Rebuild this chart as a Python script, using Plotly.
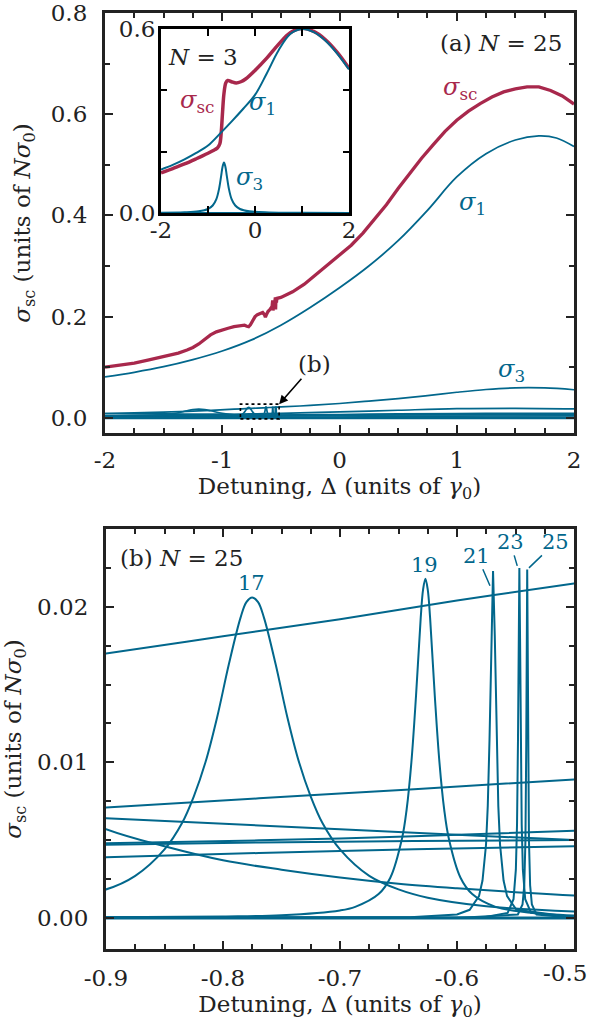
import plotly.graph_objects as go

W, H = 590, 1023
FONT = "DejaVu Serif"
INK = "#222222"
TEAL = "#02678C"
CRIMSON = "#A8284C"

# ---------------- N = 25 chain: cross sections vs detuning ----------------
# total scattering cross section
sig_sc_x = [-2.0, -1.875, -1.75, -1.625, -1.5, -1.375, -1.3, -1.25, -1.2, -1.15,
            -1.1, -1.05, -1.0, -0.95, -0.9, -0.85, -0.81, -0.79, -0.775, -0.76,
            -0.74, -0.72, -0.70, -0.675, -0.655, -0.64, -0.632, -0.625, -0.61, -0.59,
            -0.575, -0.570, -0.567, -0.562, -0.55, -0.547, -0.545, -0.542, -0.538, -0.534,
            -0.5, -0.4, -0.3, -0.2, -0.1, 0.0, 0.1, 0.2, 0.3, 0.4,
            0.5, 0.6, 0.7, 0.8, 0.9, 1.0, 1.1, 1.2, 1.3, 1.4,
            1.5, 1.6, 1.7, 1.8, 1.9, 2.0]
sig_sc = [0.100, 0.104, 0.108, 0.1145, 0.121, 0.128, 0.134, 0.139, 0.146, 0.156,
          0.164, 0.170, 0.174, 0.177, 0.180, 0.182, 0.183, 0.181, 0.180, 0.184,
          0.193, 0.200, 0.204, 0.207, 0.208, 0.204, 0.199, 0.203, 0.210, 0.215,
          0.220, 0.232, 0.212, 0.226, 0.232, 0.238, 0.214, 0.236, 0.228, 0.236,
          0.238, 0.249, 0.264, 0.283, 0.302, 0.320, 0.341, 0.365, 0.392, 0.421,
          0.453, 0.484, 0.513, 0.540, 0.566, 0.588, 0.606, 0.621, 0.634, 0.644,
          0.650, 0.654, 0.654, 0.647, 0.636, 0.620]

# sigma_1
sig1_x = [-2.0, -1.75, -1.5, -1.25, -1.0, -0.75, -0.5, -0.25, 0.0, 0.25,
          0.5, 0.75, 1.0, 1.25, 1.5, 1.7, 1.85, 2.0]
sig1 = [0.081, 0.090, 0.101, 0.115, 0.132, 0.154, 0.183, 0.218, 0.257, 0.300,
        0.350, 0.410, 0.476, 0.522, 0.549, 0.557, 0.553, 0.536]

# sigma_3
sig3_x = [-2.0, -1.5, -1.2, -0.9, -0.8, -0.7, -0.6, -0.5, -0.25, 0.0,
          0.25, 0.5, 0.75, 1.0, 1.25, 1.5, 1.75, 2.0]
sig3 = [0.0085, 0.0112, 0.0138, 0.0170, 0.0181, 0.0192, 0.0204, 0.0215, 0.0245, 0.0283,
        0.0330, 0.0380, 0.0440, 0.0505, 0.0560, 0.0592, 0.0590, 0.0555]

# slowly varying higher-order cross sections
low_x = [-2.0, -1.5, -1.0, -0.9, -0.7, -0.5, 0.0, 0.5, 1.0, 1.5, 2.0]
sig_a = [0.0045, 0.0057, 0.0067, 0.0071, 0.0080, 0.0089, 0.0117, 0.0150, 0.0180, 0.0188, 0.0178]
sig_b = [0.0085, 0.0077, 0.0067, 0.0064, 0.0057, 0.0050, 0.0036, 0.0026, 0.0019, 0.0014, 0.0011]
sig_c = [0.0028, 0.0038, 0.0046, 0.0048, 0.0051, 0.0056, 0.0066, 0.0076, 0.0084, 0.0088, 0.0086]
sig_d = [0.0034, 0.0040, 0.0045, 0.0047, 0.0049, 0.0050, 0.0054, 0.0057, 0.0059, 0.0059, 0.0057]
sig_e = [0.0022, 0.0030, 0.0037, 0.0039, 0.0043, 0.0046, 0.0052, 0.0056, 0.0058, 0.0058, 0.0055]

# resonance near -1.2
p15_x = [-2.0, -1.8, -1.6, -1.5, -1.4, -1.3, -1.25, -1.2, -1.15, -1.1,
         -1.0, -0.9, -0.85, -0.8, -0.75, -0.7, -0.65, -0.6, -0.55, -0.5,
         -0.3, 0.0, 0.5, 1.0, 2.0]
p15 = [0.0011, 0.0019, 0.0037, 0.0057, 0.0090, 0.0139, 0.0161, 0.0170, 0.0161, 0.0139,
       0.0090, 0.0057, 0.0046, 0.0037, 0.0031, 0.0026, 0.0022, 0.0019, 0.00165, 0.00144,
       0.0009, 0.00052, 0.00026, 0.00016, 0.00007]

# resonance 17
p17_x = [-2.0, -1.2, -1.0, -0.9, -0.875, -0.85, -0.835, -0.825, -0.815, -0.805,
         -0.795, -0.785, -0.78, -0.775, -0.77, -0.765, -0.755, -0.745, -0.735, -0.725,
         -0.715, -0.70, -0.675, -0.65, -0.625, -0.575, -0.5, -0.25, 0.5, 2.0]
p17 = [0.00002, 0.00017, 0.0006, 0.00183, 0.0027, 0.0044, 0.0061, 0.0078, 0.0100, 0.0129,
       0.0163, 0.0193, 0.0203, 0.0206, 0.0203, 0.0193, 0.0163, 0.0129, 0.0100, 0.0078,
       0.0061, 0.0044, 0.0027, 0.00183, 0.0013, 0.00075, 0.00041, 0.00011, 0.00002, 0.0]

# resonance 19
p19_x = [-2.0, -1.2, -0.9, -0.8, -0.75, -0.7, -0.687, -0.667, -0.657, -0.647,
         -0.643, -0.639, -0.635, -0.631, -0.629, -0.627, -0.625, -0.623, -0.619, -0.615,
         -0.611, -0.607, -0.597, -0.587, -0.567, -0.527, -0.5, -0.4, 0.0, 2.0]
p19 = [0.0, 0.000008, 0.000035, 0.000088, 0.00017, 0.00048, 0.00071, 0.00153, 0.00258, 0.0051,
       0.0070, 0.0100, 0.0143, 0.0193, 0.0211, 0.0218, 0.0211, 0.0193, 0.0143, 0.0100,
       0.0070, 0.0051, 0.00258, 0.00153, 0.00071, 0.00026, 0.00016, 0.00005, 0.00001, 0.0]

# resonance 21
p21_x = [-2.0, -0.9, -0.7, -0.64, -0.6, -0.5892, -0.5812, -0.5782, -0.5752, -0.5737,
         -0.5722, -0.5707, -0.5692, -0.5677, -0.5662, -0.5647, -0.5632, -0.5602, -0.5572, -0.5492,
         -0.5, 0.0, 2.0]
p21 = [0.0, 0.000002, 0.0000125, 0.000043, 0.00022, 0.00052, 0.0014, 0.0024, 0.0047, 0.0072,
       0.0115, 0.0181, 0.0223, 0.0181, 0.0115, 0.0072, 0.0047, 0.0024, 0.0014, 0.00052,
       0.000045, 0.0, 0.0]

# resonance 23
p23_x = [-2.0, -0.9, -0.6, -0.5767, -0.5567, -0.5517, -0.5497, -0.5487, -0.5479, -0.5473,
         -0.5467, -0.5461, -0.5455, -0.5447, -0.5437, -0.5417, -0.5367, -0.5, 2.0]
p23 = [0.0, 0.0, 0.00001, 0.000036, 0.00032, 0.0012, 0.0031, 0.0060, 0.01125, 0.018,
       0.0225, 0.018, 0.01125, 0.0060, 0.0031, 0.0012, 0.00032, 0.00001, 0.0]

# resonance 25
p25_x = [-2.0, -0.6, -0.548, -0.544, -0.5425, -0.5415, -0.5408, -0.5404, -0.54, -0.5396,
         -0.5392, -0.5385, -0.5375, -0.536, -0.532, -0.5, 2.0]
p25 = [0.0, 0.0, 0.00022, 0.00086, 0.0021, 0.0050, 0.0112, 0.0179, 0.0224, 0.0179,
       0.0112, 0.0050, 0.0021, 0.00086, 0.00022, 0.00001, 0.0]

# vanishing (even-order) cross sections
zero_x = [-2.0, 2.0]
zero_y = [0.0, 0.0]

# ---------------- N = 3 chain (inset) ----------------
in1_x = [-2.0, -1.75, -1.5, -1.25, -1.0, -0.75, -0.5, -0.25, 0.0, 0.25,
         0.5, 0.75, 1.0, 1.25, 1.5, 1.75, 2.0]
in1 = [0.142, 0.157, 0.175, 0.196, 0.220, 0.258, 0.298, 0.340, 0.385, 0.455,
       0.530, 0.584, 0.600, 0.590, 0.562, 0.520, 0.468]
insc_x = [-2.0, -1.75, -1.5, -1.25, -1.0, -0.85, -0.8, -0.75, -0.72, -0.69,
          -0.66, -0.62, -0.58, -0.5, -0.4, -0.3, -0.2, 0.0, 0.25, 0.5,
          0.75, 1.0, 1.25, 1.5, 1.75, 2.0]
insc = [0.131, 0.145, 0.160, 0.177, 0.195, 0.207, 0.212, 0.225, 0.260, 0.330,
        0.390, 0.425, 0.432, 0.428, 0.424, 0.428, 0.437, 0.465, 0.505, 0.550,
        0.588, 0.602, 0.592, 0.565, 0.524, 0.472]
in3_x = [-2.0, -1.5, -1.2, -1.0, -0.9, -0.82, -0.76, -0.72, -0.69, -0.66,
         -0.63, -0.6, -0.56, -0.5, -0.42, -0.32, -0.12, 0.3, 1.0, 2.0]
in3 = [0.0009, 0.0022, 0.0055, 0.0131, 0.0244, 0.0463, 0.0825, 0.121, 0.151, 0.165,
       0.151, 0.121, 0.0825, 0.0463, 0.0244, 0.0131, 0.0055, 0.0018, 0.0006, 0.00023]

# ---------------- tick labels ----------------
xa_vals = [-2, -1, 0, 1, 2]
xa_text = ["-2", "-1", "0", "1", "2"]
ya_vals = [0.0, 0.2, 0.4, 0.6, 0.8]
ya_text = ["0.0", "0.2", "0.4", "0.6", "0.8"]
xi_vals = [-2, -1, 0, 1, 2]
xi_text = ["-2", "", "0", "", "2"]
yi_vals = [0.0, 0.2, 0.4, 0.6]
yi_text = ["0.0", "", "", "0.6"]
xb_vals = [-0.9, -0.8, -0.7, -0.6, -0.5]
xb_text = ["-0.9", "-0.8", "-0.7", "-0.6", ""]
xb_last = "-0.5"   # right-most label, kept inside the page edge
yb_vals = [0.0, 0.01, 0.02]
yb_text = ["0.00", "0.01", "0.02"]


def px(x):
    return x / W


def py(y):
    return 1 - y / H


fig = go.Figure()


def line(x, y, xa, ya, color, width, shape="linear"):
    fig.add_trace(go.Scatter(x=x, y=y, xaxis=xa, yaxis=ya, mode="lines",
                             line=dict(color=color, width=width, shape=shape),
                             hoverinfo="skip", showlegend=False))


# teal family, shared by panels (a) and (b)
smooth = [(low_x, sig_a), (low_x, sig_b), (low_x, sig_c), (low_x, sig_d), (low_x, sig_e),
          (sig3_x, sig3), (p15_x, p15), (p17_x, p17), (p19_x, p19)]
sharp = [(p21_x, p21), (p23_x, p23), (p25_x, p25)]

for xa, ya, w in (("x", "y", 1.7), ("x3", "y3", 2.0)):
    line(zero_x, zero_y, xa, ya, TEAL, 3.0)
    for xs, ys in smooth:
        line(xs, ys, xa, ya, TEAL, w, "spline")
    for xs, ys in sharp:
        line(xs, ys, xa, ya, TEAL, w)

line(sig1_x, sig1, "x", "y", TEAL, 1.8, "spline")
line(sig_sc_x, sig_sc, "x", "y", CRIMSON, 3.3)

# inset
line(zero_x, zero_y, "x2", "y2", TEAL, 2.0)
line(in3_x, in3, "x2", "y2", TEAL, 2.0, "spline")
line(insc_x, insc, "x2", "y2", CRIMSON, 3.5, "spline")
line(in1_x, in1, "x2", "y2", TEAL, 2.0, "spline")

TICKFONT = dict(family=FONT, size=23, color=INK)


def axis(domain, rng, vals, text, minor_dtick, minor_tick0, anchor,
         ticklen=8, minorlen=4.5, lw=3.2, color=INK, standoff=6, title=None):
    d = dict(domain=domain, range=rng, anchor=anchor, showline=True, linewidth=lw,
             linecolor=color, mirror="allticks", ticks="inside", ticklen=ticklen,
             tickwidth=2.4, tickcolor=color, showgrid=False, zeroline=False,
             tickmode="array", tickvals=vals, ticktext=text, tickfont=TICKFONT,
             ticklabelstandoff=standoff, fixedrange=True, automargin=False)
    if minor_dtick:
        d["minor"] = dict(ticks="inside", ticklen=minorlen, tickwidth=2.2, tickcolor=color,
                          dtick=minor_dtick, tick0=minor_tick0, showgrid=False)
    if title:
        d["title"] = title
    return d


XTITLE = "Detuning, \u0394 (units of <i>\u03b3</i><sub>0</sub>)"
YTITLE = "<i>\u03c3</i><sub>sc</sub> (units of <i>N\u03c3</i><sub>0</sub>)"
TFONT = dict(family=FONT, size=23, color=INK)

fig.update_layout(
    width=W, height=H, margin=dict(l=0, r=0, t=0, b=0, autoexpand=False), autosize=False,
    paper_bgcolor="white", plot_bgcolor="white", showlegend=False,
    font=dict(family=FONT, size=23, color=INK),
    xaxis=axis([px(105), px(574)], [-2, 2], xa_vals, xa_text, 0.25, 0, "y", standoff=4,
               title=dict(text=XTITLE, font=TFONT, standoff=2)),
    yaxis=axis([py(433), py(13)], [-0.03, 0.8], ya_vals, ya_text, 0.1, 0, "x", standoff=10,
               title=dict(text=YTITLE, font=TFONT, standoff=14)),
    xaxis2=axis([px(161), px(349)], [-2, 2], xi_vals, xi_text, None, 0, "y2",
                ticklen=7, lw=3, color="#000000", standoff=-6),
    yaxis2=axis([py(213), py(29)], [0, 0.6], yi_vals, yi_text, None, 0, "x2",
                ticklen=6, lw=3, color="#000000", standoff=-2),
    xaxis3=axis([px(106), px(574)], [-0.9, -0.5], xb_vals, xb_text, 0.025, -0.9, "y3",
                standoff=6, title=dict(text=XTITLE, font=TFONT, standoff=2)),
    yaxis3=axis([py(949), py(529)], [-0.002, 0.025], yb_vals, yb_text, 0.0025, 0, "x3",
                standoff=10, title=dict(text=YTITLE, font=TFONT, standoff=10)),
)

# zoom window marker in panel (a)
fig.add_shape(type="rect", xref="x", yref="y", x0=-0.845, x1=-0.515, y0=-0.002, y1=0.027,
              line=dict(color="#000000", width=1.6, dash="dot"))


def label(x, y, text, color=INK, size=23, anchor="center"):
    fig.add_annotation(x=px(x), y=py(y), xref="paper", yref="paper", text=text,
                       showarrow=False, xanchor=anchor, yanchor="middle",
                       font=dict(family=FONT, size=size, color=color))


SIG = "<i>\u03c3</i>"
label(501, 43, "(a) <i>N</i> = 25")
label(460, 88, SIG + "<sub>sc</sub>", CRIMSON, 24)
label(472, 203, SIG + "<sub>1</sub>", TEAL, 24)
label(511, 370, SIG + "<sub>3</sub>", TEAL, 24)
label(203, 57, "<i>N</i> = 3")
label(197, 101, SIG + "<sub>sc</sub>", CRIMSON, 24)
label(262, 103, SIG + "<sub>1</sub>", TEAL, 24)
label(249, 178, SIG + "<sub>3</sub>", TEAL, 24)
label(181, 558, "(b) <i>N</i> = 25")
label(251, 583, "17", TEAL, 21)
label(424, 565, "19", TEAL, 21)
label(589, 973, xb_last, INK, 23, "right")

# pointer from "(b)" to the zoom window
fig.add_annotation(x=-0.515, y=0.027, xref="x", yref="y", text="(b)", showarrow=True,
                   ax=35, ay=-40, arrowhead=2, arrowsize=1.1, arrowwidth=1.6,
                   arrowcolor="#000000", font=dict(family=FONT, size=23, color=INK))

# pointers to the narrow resonances in panel (b)
for xh, yh, t, ax, ay in ((-0.5718, 0.02135, "21", -13, -30),
                          (-0.5485, 0.02263, "23", -7, -24),
                          (-0.5385, 0.0225, "25", 27, -26)):
    fig.add_annotation(x=xh, y=yh, xref="x3", yref="y3", text=t, showarrow=True,
                       ax=ax, ay=ay, arrowhead=0, arrowwidth=1.5, arrowcolor=TEAL,
                       standoff=0, font=dict(family=FONT, size=21, color=TEAL))

fig.write_html("out.html")
